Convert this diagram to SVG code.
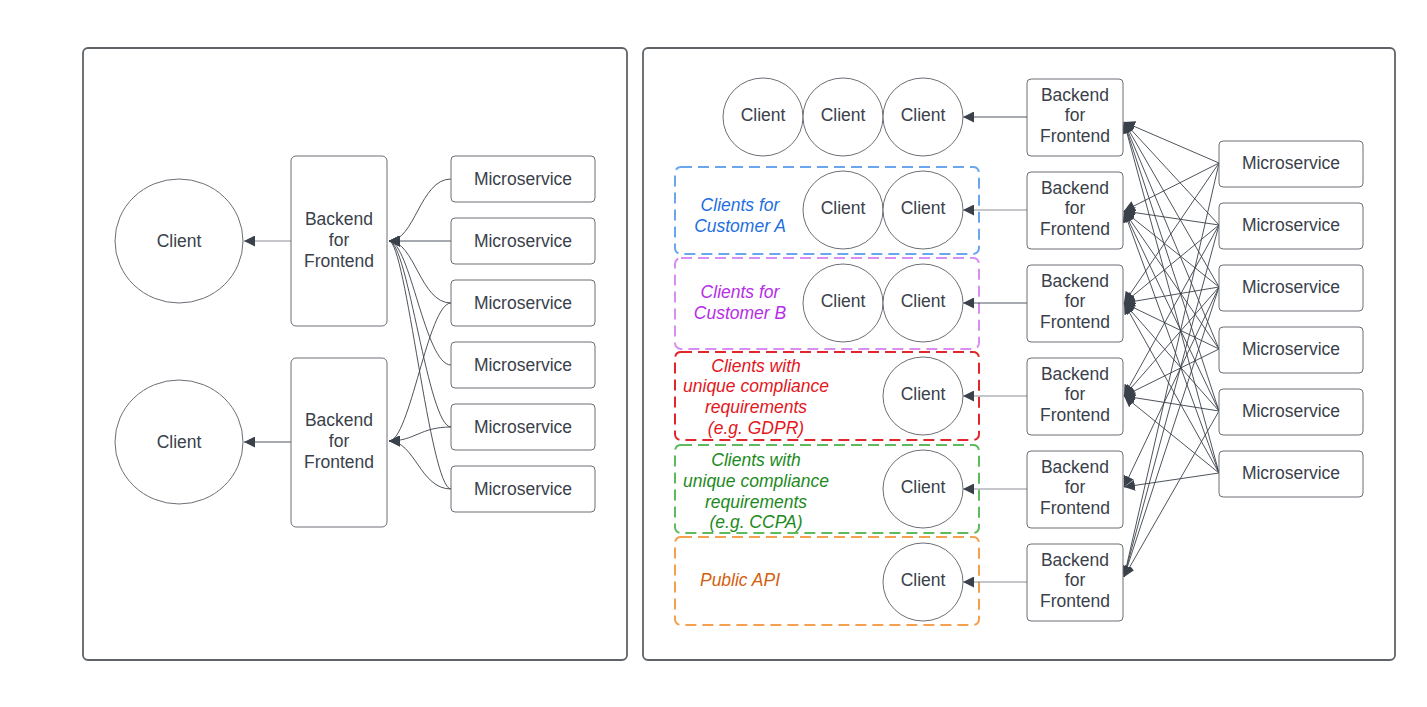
<svg xmlns="http://www.w3.org/2000/svg" width="1427" height="707" viewBox="0 0 1427 707">
<defs>
<style>
.panel{fill:#fff;stroke:#5f6368;stroke-width:1.8}
.box{fill:#fff;stroke:#6b6f75;stroke-width:1}
.t{font-family:"Liberation Sans",Arial,sans-serif;font-size:17.5px;fill:#3a414a;text-anchor:middle}
.it{font-family:"Liberation Sans",Arial,sans-serif;font-size:17.5px;font-style:italic;text-anchor:middle}
.dash{fill:none;stroke-width:2;stroke-dasharray:11 6}
.c{fill:none;stroke:#3a414a;stroke-width:0.9}
.cl{fill:none;stroke:#8a8f96;stroke-width:1}
</style>
<marker id="ah" viewBox="0 0 10 10" refX="10" refY="5" markerWidth="11" markerHeight="11" markerUnits="userSpaceOnUse" orient="auto">
<path d="M0,0 L10,5 L0,10 Z" fill="#3a414a"/>
</marker>
</defs>
<rect width="1427" height="707" fill="#fff"/>
<g id="panel-left"><rect class="panel" x="83" y="48" width="544" height="612" rx="5"/></g>
<g id="panel-right"><rect class="panel" x="643" y="48" width="752" height="612" rx="5"/></g>

<g id="groups">
<rect class="dash" x="675" y="167" width="304" height="87" rx="6" stroke="#6aa6ee"/>
<rect class="dash" x="675" y="258" width="304" height="91" rx="6" stroke="#d88ef2"/>
<rect class="dash" x="675" y="352" width="304" height="88" rx="6" stroke="#e3262b"/>
<rect class="dash" x="675" y="445" width="304" height="88" rx="6" stroke="#5dbb5d"/>
<rect class="dash" x="675" y="537" width="304" height="88" rx="6" stroke="#f4a04f"/>
<text class="it" fill="#1f6fe0" x="740" y="211">Clients for</text>
<text class="it" fill="#1f6fe0" x="740" y="232">Customer A</text>
<text class="it" fill="#b52ee6" x="740" y="298">Clients for</text>
<text class="it" fill="#b52ee6" x="740" y="319">Customer B</text>
<text class="it" fill="#e3161c" x="756" y="372">Clients with</text>
<text class="it" fill="#e3161c" x="756" y="392">unique compliance</text>
<text class="it" fill="#e3161c" x="756" y="413">requirements</text>
<text class="it" fill="#e3161c" x="756" y="434">(e.g. GDPR)</text>
<text class="it" fill="#1c8a1c" x="756" y="466">Clients with</text>
<text class="it" fill="#1c8a1c" x="756" y="487">unique compliance</text>
<text class="it" fill="#1c8a1c" x="756" y="508">requirements</text>
<text class="it" fill="#1c8a1c" x="756" y="528">(e.g. CCPA)</text>
<text class="it" fill="#d4600e" x="740" y="586">Public API</text>
</g>

<g id="connectors">
<!-- left panel -->
<line class="cl" x1="291" y1="241" x2="244" y2="241" marker-end="url(#ah)"/>
<line class="c" x1="291" y1="442" x2="244" y2="442" marker-end="url(#ah)"/>
<path class="c" d="M451,179 C420,179 415,241 389,241" marker-end="url(#ah)"/>
<path class="c" d="M451,241 L389,241" marker-end="url(#ah)"/>
<path class="c" d="M451,303 C420,303 415,241 389,241" marker-end="url(#ah)"/>
<path class="c" d="M451,365 C425,365 410,241 389,241" marker-end="url(#ah)"/>
<path class="c" d="M451,427 C428,427 408,241 389,241" marker-end="url(#ah)"/>
<path class="c" d="M451,489 C430,489 406,241 389,241" marker-end="url(#ah)"/>
<path class="c" d="M451,303 C428,303 410,441 389,441" marker-end="url(#ah)"/>
<path class="c" d="M451,427 C420,427 415,441 389,441" marker-end="url(#ah)"/>
<path class="c" d="M451,489 C420,489 415,441 389,441" marker-end="url(#ah)"/>
<!-- right panel BFF to clients -->
<line class="c" x1="1027" y1="117" x2="963" y2="117" marker-end="url(#ah)"/>
<line class="cl" x1="1027" y1="210" x2="963" y2="210" marker-end="url(#ah)"/>
<line class="c" x1="1027" y1="303" x2="963" y2="303" marker-end="url(#ah)"/>
<line class="cl" x1="1027" y1="396" x2="963" y2="396" marker-end="url(#ah)"/>
<line class="cl" x1="1027" y1="489" x2="963" y2="489" marker-end="url(#ah)"/>
<line class="cl" x1="1027" y1="582" x2="963" y2="582" marker-end="url(#ah)"/>
<!-- mesh: B1 -->
<line class="c" x1="1219" y1="163" x2="1124" y2="122" marker-end="url(#ah)"/>
<line class="c" x1="1219" y1="225" x2="1124" y2="122" marker-end="url(#ah)"/>
<line class="c" x1="1219" y1="287" x2="1124" y2="122" marker-end="url(#ah)"/>
<line class="c" x1="1219" y1="349" x2="1124" y2="122" marker-end="url(#ah)"/>
<line class="c" x1="1219" y1="411" x2="1124" y2="122" marker-end="url(#ah)"/>
<line class="c" x1="1219" y1="473" x2="1124" y2="122" marker-end="url(#ah)"/>
<!-- B2 -->
<line class="c" x1="1219" y1="163" x2="1124" y2="211" marker-end="url(#ah)"/>
<line class="c" x1="1219" y1="225" x2="1124" y2="211" marker-end="url(#ah)"/>
<line class="c" x1="1219" y1="287" x2="1124" y2="211" marker-end="url(#ah)"/>
<line class="c" x1="1219" y1="349" x2="1124" y2="211" marker-end="url(#ah)"/>
<line class="c" x1="1219" y1="411" x2="1124" y2="211" marker-end="url(#ah)"/>
<line class="c" x1="1219" y1="473" x2="1124" y2="211" marker-end="url(#ah)"/>
<!-- B3 -->
<line class="c" x1="1219" y1="163" x2="1124" y2="303" marker-end="url(#ah)"/>
<line class="c" x1="1219" y1="225" x2="1124" y2="303" marker-end="url(#ah)"/>
<line class="c" x1="1219" y1="287" x2="1124" y2="303" marker-end="url(#ah)"/>
<line class="c" x1="1219" y1="349" x2="1124" y2="303" marker-end="url(#ah)"/>
<line class="c" x1="1219" y1="411" x2="1124" y2="303" marker-end="url(#ah)"/>
<line class="c" x1="1219" y1="473" x2="1124" y2="303" marker-end="url(#ah)"/>
<!-- B4 -->
<line class="c" x1="1219" y1="225" x2="1124" y2="396" marker-end="url(#ah)"/>
<line class="c" x1="1219" y1="287" x2="1124" y2="396" marker-end="url(#ah)"/>
<line class="c" x1="1219" y1="349" x2="1124" y2="396" marker-end="url(#ah)"/>
<line class="c" x1="1219" y1="411" x2="1124" y2="396" marker-end="url(#ah)"/>
<line class="c" x1="1219" y1="473" x2="1124" y2="396" marker-end="url(#ah)"/>
<!-- B5 -->
<line class="c" x1="1219" y1="287" x2="1124" y2="487" marker-end="url(#ah)"/>
<line class="c" x1="1219" y1="473" x2="1124" y2="487" marker-end="url(#ah)"/>
<!-- B6 -->
<line class="c" x1="1219" y1="163" x2="1124" y2="577" marker-end="url(#ah)"/>
<line class="c" x1="1219" y1="225" x2="1124" y2="577" marker-end="url(#ah)"/>
<line class="c" x1="1219" y1="287" x2="1124" y2="577" marker-end="url(#ah)"/>
<line class="c" x1="1219" y1="411" x2="1124" y2="577" marker-end="url(#ah)"/>
</g>

<!-- left panel nodes -->
<g id="l-client-1"><ellipse class="box" cx="179" cy="241" rx="64" ry="62"/><text class="t" x="179" y="247">Client</text></g>
<g id="l-client-2"><ellipse class="box" cx="179" cy="442" rx="64" ry="62"/><text class="t" x="179" y="448">Client</text></g>
<g id="l-bff-1"><rect class="box" x="291" y="156" width="96" height="170" rx="5"/><text class="t" x="339" y="225">Backend</text><text class="t" x="339" y="246">for</text><text class="t" x="339" y="267">Frontend</text></g>
<g id="l-bff-2"><rect class="box" x="291" y="358" width="96" height="169" rx="5"/><text class="t" x="339" y="426">Backend</text><text class="t" x="339" y="447">for</text><text class="t" x="339" y="468">Frontend</text></g>
<g id="l-ms-1"><rect class="box" x="451" y="156" width="144" height="46" rx="4"/><text class="t" x="523" y="185">Microservice</text></g>
<g id="l-ms-2"><rect class="box" x="451" y="218" width="144" height="46" rx="4"/><text class="t" x="523" y="247">Microservice</text></g>
<g id="l-ms-3"><rect class="box" x="451" y="280" width="144" height="46" rx="4"/><text class="t" x="523" y="309">Microservice</text></g>
<g id="l-ms-4"><rect class="box" x="451" y="342" width="144" height="46" rx="4"/><text class="t" x="523" y="371">Microservice</text></g>
<g id="l-ms-5"><rect class="box" x="451" y="404" width="144" height="46" rx="4"/><text class="t" x="523" y="433">Microservice</text></g>
<g id="l-ms-6"><rect class="box" x="451" y="466" width="144" height="46" rx="4"/><text class="t" x="523" y="495">Microservice</text></g>

<!-- right panel clients -->
<g id="r-client-1a"><ellipse class="box" cx="763" cy="117" rx="40" ry="39"/><text class="t" x="763" y="121">Client</text></g>
<g id="r-client-1b"><ellipse class="box" cx="843" cy="117" rx="40" ry="39"/><text class="t" x="843" y="121">Client</text></g>
<g id="r-client-1c"><ellipse class="box" cx="923" cy="117" rx="40" ry="39"/><text class="t" x="923" y="121">Client</text></g>
<g id="r-client-2a"><ellipse class="box" cx="843" cy="210" rx="40" ry="39"/><text class="t" x="843" y="214">Client</text></g>
<g id="r-client-2b"><ellipse class="box" cx="923" cy="210" rx="40" ry="39"/><text class="t" x="923" y="214">Client</text></g>
<g id="r-client-3a"><ellipse class="box" cx="843" cy="303" rx="40" ry="39"/><text class="t" x="843" y="307">Client</text></g>
<g id="r-client-3b"><ellipse class="box" cx="923" cy="303" rx="40" ry="39"/><text class="t" x="923" y="307">Client</text></g>
<g id="r-client-4"><ellipse class="box" cx="923" cy="396" rx="40" ry="39"/><text class="t" x="923" y="400">Client</text></g>
<g id="r-client-5"><ellipse class="box" cx="923" cy="489" rx="40" ry="39"/><text class="t" x="923" y="493">Client</text></g>
<g id="r-client-6"><ellipse class="box" cx="923" cy="582" rx="40" ry="39"/><text class="t" x="923" y="586">Client</text></g>

<!-- right panel BFFs -->
<g id="r-bff-1"><rect class="box" x="1027" y="79" width="96" height="77" rx="4"/><text class="t" x="1075" y="101">Backend</text><text class="t" x="1075" y="121">for</text><text class="t" x="1075" y="142">Frontend</text></g>
<g id="r-bff-2"><rect class="box" x="1027" y="172" width="96" height="77" rx="4"/><text class="t" x="1075" y="194">Backend</text><text class="t" x="1075" y="214">for</text><text class="t" x="1075" y="235">Frontend</text></g>
<g id="r-bff-3"><rect class="box" x="1027" y="265" width="96" height="77" rx="4"/><text class="t" x="1075" y="287">Backend</text><text class="t" x="1075" y="307">for</text><text class="t" x="1075" y="328">Frontend</text></g>
<g id="r-bff-4"><rect class="box" x="1027" y="358" width="96" height="77" rx="4"/><text class="t" x="1075" y="380">Backend</text><text class="t" x="1075" y="400">for</text><text class="t" x="1075" y="421">Frontend</text></g>
<g id="r-bff-5"><rect class="box" x="1027" y="451" width="96" height="77" rx="4"/><text class="t" x="1075" y="473">Backend</text><text class="t" x="1075" y="493">for</text><text class="t" x="1075" y="514">Frontend</text></g>
<g id="r-bff-6"><rect class="box" x="1027" y="544" width="96" height="77" rx="4"/><text class="t" x="1075" y="566">Backend</text><text class="t" x="1075" y="586">for</text><text class="t" x="1075" y="607">Frontend</text></g>

<!-- right panel microservices -->
<g id="r-ms-1"><rect class="box" x="1219" y="141" width="144" height="46" rx="4"/><text class="t" x="1291" y="169">Microservice</text></g>
<g id="r-ms-2"><rect class="box" x="1219" y="203" width="144" height="46" rx="4"/><text class="t" x="1291" y="231">Microservice</text></g>
<g id="r-ms-3"><rect class="box" x="1219" y="265" width="144" height="46" rx="4"/><text class="t" x="1291" y="293">Microservice</text></g>
<g id="r-ms-4"><rect class="box" x="1219" y="327" width="144" height="46" rx="4"/><text class="t" x="1291" y="355">Microservice</text></g>
<g id="r-ms-5"><rect class="box" x="1219" y="389" width="144" height="46" rx="4"/><text class="t" x="1291" y="417">Microservice</text></g>
<g id="r-ms-6"><rect class="box" x="1219" y="451" width="144" height="46" rx="4"/><text class="t" x="1291" y="479">Microservice</text></g>
</svg>
